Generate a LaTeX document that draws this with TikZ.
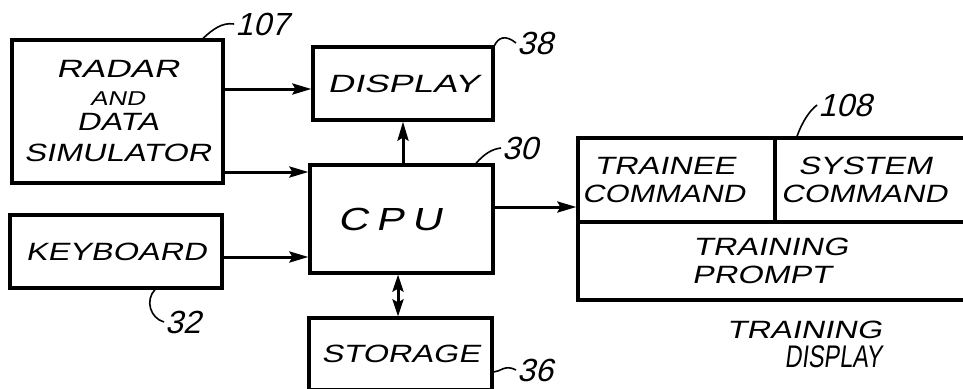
\documentclass[tikz,border=0pt]{standalone}
\usepackage{fontspec}
\setmainfont{Liberation Sans}
\newfontfamily\pf{Liberation Sans}[FakeSlant=0.22,FakeStretch=1.3]
\newfontfamily\nf{Liberation Sans}[FakeSlant=0.25]
\usetikzlibrary{arrows.meta}
\newcommand\txtshift[1]{\hspace*{#1}}
\begin{document}
\begin{tikzpicture}[x=1pt,y=-1pt,
  box/.style={draw,line width=3.2pt,align=center,inner sep=0pt,
    font=\pf\fontsize{25}{28}\selectfont},
  captxt/.style={align=center,inner sep=0pt,font=\pf\fontsize{25}{28}\selectfont},
  refnum/.style={inner sep=1pt,font=\nf\fontsize{32}{32}\selectfont},
  arr/.style={-{Stealth[length=19pt,width=11pt,inset=3pt]},line width=3pt},
  darr/.style={{Stealth[length=17pt,width=11pt,inset=3pt]}-{Stealth[length=17pt,width=11pt,inset=3pt]},line width=3pt},
  lead/.style={line width=1.6pt}]
\useasboundingbox (0,0) rectangle (963,388);
\clip (0,0) rectangle (963,388);
\fill[white] (0,0) rectangle (963,388);

\node[box,minimum width=211pt,minimum height=143pt] (radar) at (117.5,111.5)
  {\scalebox{1.08}[1]{RADAR}\\[0pt]{\fontsize{20}{20}\selectfont AND}\\[-3pt]DATA\\[3pt]SIMULATOR};
\node[box,minimum width=180pt,minimum height=73pt] (display) at (403,83.5) {\scalebox{1.12}[1]{DISPLAY}};
\node[box,minimum width=183pt,minimum height=108pt] (cpu) at (401.5,219)
  {\txtshift{-24pt}{\fontsize{32}{32}\selectfont C\hspace{0.25em}P\hspace{0.25em}U}};
\node[box,minimum width=183pt,minimum height=72pt] (storage) at (400.5,354) {STORAGE};
\node[box,minimum width=212pt,minimum height=73pt] (keyboard) at (116,251.5) {KEYBOARD};
\node[box,minimum width=197pt,minimum height=84pt] (trainee) at (676.5,180)
  {\txtshift{-24pt}TRAINEE\\\txtshift{-26pt}\scalebox{0.95}[1]{COMMAND}};
\node[box,minimum width=200pt,minimum height=84pt] (system) at (875,180)
  {\txtshift{-20pt}SYSTEM\\\txtshift{-22pt}\scalebox{0.97}[1]{COMMAND}};
\node[box,minimum width=397pt,minimum height=78pt] (prompt) at (776.5,261)
  {\txtshift{-12pt}TRAINING\\\txtshift{-30pt}PROMPT};
\node[captxt,anchor=east,align=right] (tdisp) at (882,344)
  {TRAINING\\[1pt]\scalebox{0.72}[1.25]{DISPLAY}\hspace{5pt}};

\node[refnum] (l107) at (262,24) {107};
\node[refnum] (l38) at (535,43) {38};
\node[refnum] (l30) at (520,148) {30};
\node[refnum] (l36) at (535,370) {36};
\node[refnum] (l108) at (845,105) {108};
\node[refnum] (l32) at (183,322) {32};

\draw[arr] (radar.east |- 0,89) -- (display.west |- 0,89);
\draw[arr] (radar.east |- 0,172) -- (cpu.west |- 0,172);
\draw[arr] (keyboard.east |- 0,257) -- (cpu.west |- 0,257);
\draw[arr] (cpu.north -| display.south) -- (display.south);
\draw[darr] (cpu.south -| 398,0) -- (storage.north -| 398,0);
\draw[arr] (cpu.east |- 0,207) -- (trainee.west |- 0,207);

\draw[lead] (radar.north -| 203,0) .. controls (212,30) and (222,22) .. (l107.west);
\draw[lead] (display.north east) .. controls (498,38) and (505,34) .. (l38.west);
\draw[lead] (cpu.north -| 476,0) .. controls (484,154) and (492,149) .. (l30.west);
\draw[lead] (storage.east |- 0,372) .. controls (500,372) and (505,364) .. (l36.west);
\draw[lead] (trainee.north -| 797,0) .. controls (802,122) and (810,110) .. (l108.west);
\draw[lead] (keyboard.south -| 155,0) .. controls (145,300) and (150,318) .. (l32.west);
\end{tikzpicture}
\end{document}
